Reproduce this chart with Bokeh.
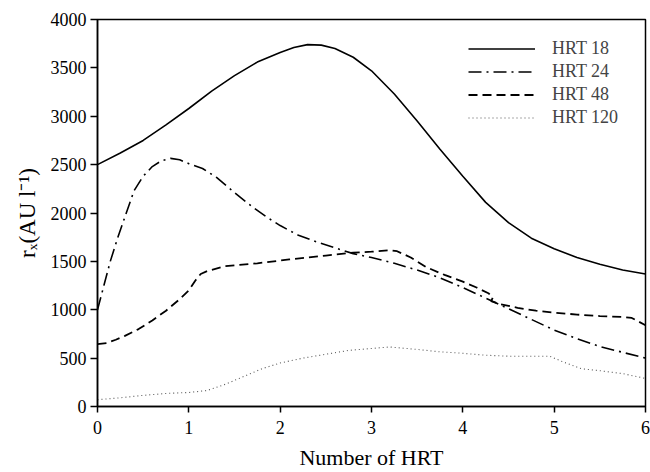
from bokeh.plotting import figure
from bokeh.models import Range1d, FixedTicker, Legend, LegendItem
from bokeh.embed import file_html
from bokeh.resources import INLINE

# ---- data ----
hrt18_x = [0, 0.25, 0.5, 0.75, 1.0, 1.25, 1.5, 1.75, 2.0, 2.15, 2.3, 2.45, 2.6, 2.8, 3.0,
           3.25, 3.5, 3.75, 4.0, 4.25, 4.5, 4.75, 5.0, 5.25, 5.5, 5.75, 6.0]
hrt18_y = [2500, 2620, 2750, 2910, 3080, 3260, 3420, 3560, 3660, 3710, 3740, 3735, 3700, 3610, 3470,
           3230, 2950, 2660, 2380, 2110, 1900, 1740, 1630, 1540, 1470, 1410, 1370]

hrt24_x = [0, 0.07, 0.14, 0.22, 0.3, 0.4, 0.5, 0.6, 0.7, 0.8, 0.9, 1.0, 1.15, 1.3, 1.5, 1.7,
           1.85, 2.0, 2.2, 2.4, 2.6, 2.8, 3.0, 3.25, 3.5, 3.75, 4.0, 4.25, 4.5, 4.75, 5.0,
           5.25, 5.5, 5.75, 6.0]
hrt24_y = [1000, 1250, 1500, 1740, 1960, 2230, 2380, 2480, 2540, 2565, 2550, 2510, 2460, 2370,
           2210, 2060, 1960, 1870, 1770, 1700, 1640, 1580, 1540, 1480, 1410, 1330, 1230, 1120,
           1010, 900, 790, 700, 620, 560, 500]

hrt48_x = [0, 0.1, 0.2, 0.3, 0.45, 0.6, 0.75, 0.9, 1.0, 1.07, 1.13, 1.2, 1.4, 1.75, 2.1, 2.5,
           2.8, 3.0, 3.2, 3.28, 3.43, 3.6, 3.8, 4.0, 4.15, 4.28, 4.33, 4.31, 4.4, 4.6, 4.8, 5.0,
           5.25, 5.5, 5.75, 5.85, 6.0]
hrt48_y = [645, 655, 690, 730, 800, 890, 990, 1110, 1200, 1300, 1370, 1400, 1450, 1480, 1520,
           1560, 1590, 1600, 1615, 1605, 1540, 1440, 1360, 1290, 1230, 1170, 1130, 1090, 1060,
           1020, 990, 970, 950, 935, 925, 915, 840]

hrt120_x = [0, 0.25, 0.5, 0.75, 1.0, 1.2, 1.4, 1.6, 1.8, 2.0, 2.25, 2.5, 2.75, 3.0, 3.2, 3.5,
            3.75, 4.0, 4.25, 4.5, 4.75, 4.95, 5.1, 5.3, 5.5, 5.75, 6.0]
hrt120_y = [70, 90, 115, 135, 145, 165, 230, 310, 390, 450, 500, 540, 580, 600, 615, 590,
            565, 550, 530, 520, 520, 520, 460, 390, 370, 340, 290]

series_names = ["HRT 18", "HRT 24", "HRT 48", "HRT 120"]
x_ticks = [0, 1, 2, 3, 4, 5, 6]
y_ticks = [0, 500, 1000, 1500, 2000, 2500, 3000, 3500, 4000]
x_title = "Number of HRT"
y_title = "r\u2093(AU l\u207b\u00b9)"

FONT = "Liberation Serif"

p = figure(width=650, height=472, output_backend="svg", toolbar_location=None,
           x_range=Range1d(0, 6), y_range=Range1d(0, 4000),
           min_border_left=97, min_border_right=5, min_border_top=19, min_border_bottom=61)
p.grid.visible = False
p.background_fill_color = "white"
p.border_fill_color = "white"
p.outline_line_color = "black"
p.outline_line_width = 1.5

for ax in (p.xaxis[0], p.yaxis[0]):
    ax.axis_line_width = 1.5
    ax.axis_line_color = "black"
    ax.major_tick_line_width = 1.5
    ax.major_tick_in = 0
    ax.minor_tick_line_color = None
    ax.major_label_text_font = FONT
    ax.major_label_text_font_size = "18px"
    ax.major_label_text_color = "black"
    ax.axis_label_text_font = FONT
    ax.axis_label_text_font_style = "normal"
    ax.axis_label_text_color = "black"

p.xaxis[0].ticker = FixedTicker(ticks=x_ticks)
p.yaxis[0].ticker = FixedTicker(ticks=y_ticks)
p.xaxis[0].major_tick_out = 6
p.yaxis[0].major_tick_out = 7
p.xaxis[0].major_label_standoff = 8
p.yaxis[0].major_label_standoff = 4
p.xaxis[0].axis_label = x_title
p.xaxis[0].axis_label_text_font_size = "22px"
p.xaxis[0].axis_label_standoff = 8
p.yaxis[0].axis_label = y_title
p.yaxis[0].axis_label_text_font_size = "23px"
p.yaxis[0].axis_label_standoff = 8

r1 = p.line(hrt18_x, hrt18_y, line_color="black", line_width=1.6)
r2 = p.line(hrt24_x, hrt24_y, line_color="black", line_width=1.6, line_dash="13 5 2 5")
r3 = p.line(hrt48_x, hrt48_y, line_color="black", line_width=1.8, line_dash="9 5")
r4 = p.line(hrt120_x, hrt120_y, line_color="#555555", line_width=1.1, line_dash="1 3")

legend = Legend(items=[LegendItem(label=n, renderers=[r]) for n, r in zip(series_names, [r1, r2, r3, r4])],
                location=(371, 277), padding=0, margin=0, spacing=0,
                label_height=23, glyph_height=23, glyph_width=67, label_standoff=17,
                label_text_font=FONT, label_text_font_size="18px",
                border_line_color=None, background_fill_alpha=0)
p.add_layout(legend)

open("out.html", "w").write(file_html(p, INLINE))
